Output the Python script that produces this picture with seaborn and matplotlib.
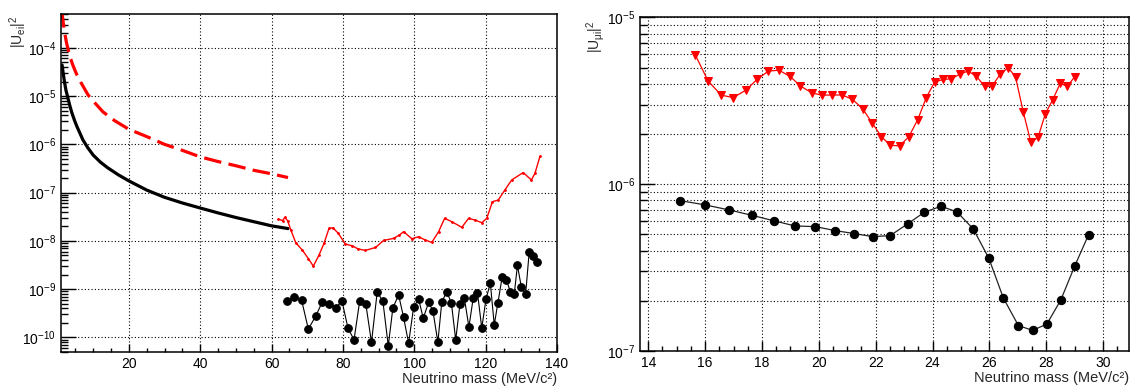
import matplotlib
matplotlib.use("Agg")
import matplotlib.pyplot as plt
import seaborn as sns
from matplotlib.ticker import FixedLocator, LogLocator, NullFormatter, LogFormatterSciNotation

#--------------------------------------- DATA ---------------------------------------#
# left panel : |U_ei|^2
e_curve_mass = [1.3, 1.6, 2.0, 2.4, 2.8, 3.4, 4.0, 4.8, 5.5, 6.3, 7.1, 8.5, 10, 12, 14, 17,
                20, 25, 30, 35, 40, 45, 50, 55, 60, 64.6]
e_curve_val = [4.4e-5, 3.0e-5, 1.9e-5, 1.3e-5, 1.0e-5, 6.6e-6, 4.6e-6, 3.1e-6, 2.3e-6, 1.7e-6,
               1.25e-6, 8.5e-7, 6.0e-7, 4.3e-7, 3.3e-7, 2.35e-7, 1.75e-7, 1.13e-7, 8.0e-8,
               6.1e-8, 4.8e-8, 3.8e-8, 3.05e-8, 2.5e-8, 2.05e-8, 1.8e-8]

e_dash_mass = [1.2, 1.6, 2.0, 2.55, 3.0, 3.5, 4.2, 5.3, 6.5, 8.6, 10.5, 12.75, 16, 20, 25, 30,
               35, 40, 45, 50, 55, 60, 64.6]
e_dash_val = [6.0e-4, 3.4e-4, 2.1e-4, 1.25e-4, 9.2e-5, 6.6e-5, 4.6e-5, 2.9e-5, 1.95e-5, 1.05e-5,
              7.2e-6, 4.7e-6, 3.1e-6, 2.05e-6, 1.45e-6, 1.0e-6, 7.5e-7, 5.5e-7, 4.4e-7, 3.6e-7,
              2.9e-7, 2.45e-7, 2.05e-7]

e_red_mass = [61.9, 63.1, 63.7, 64.5, 65.4, 66.8, 68.65, 70.3, 71.7, 73.3, 74.7, 76.1, 77.2,
              78.7, 80.7, 82.6, 84.3, 86.3, 89.1, 91.4, 94.2, 95.8, 97.0, 99.3, 101.2, 103.1,
              104.9, 106.8, 108.5, 110.5, 113.3, 115.2, 117.0, 118.9, 120.3, 121.9, 123.5,
              125.4, 127.3, 130.5, 132.8, 133.8, 135.2]
e_red_val = [2.84e-8, 2.62e-8, 3.08e-8, 2.62e-8, 1.68e-8, 9.1e-9, 6.4e-9, 4.3e-9, 3.0e-9,
             5.1e-9, 8.9e-9, 1.82e-8, 1.87e-8, 1.43e-8, 8.6e-9, 7.9e-9, 6.8e-9, 6.35e-9,
             7.3e-9, 1.02e-8, 1.13e-8, 1.32e-8, 1.55e-8, 1.11e-8, 1.22e-8, 1.04e-8, 9.3e-9,
             1.55e-8, 2.93e-8, 2.5e-8, 1.91e-8, 2.93e-8, 2.71e-8, 2.38e-8, 2.93e-8, 6.5e-8,
             7.0e-8, 1.14e-7, 1.83e-7, 2.6e-7, 1.83e-7, 2.5e-7, 5.6e-7]

e_dot_mass = [64.2, 66.3, 68.4, 70.3, 72.4, 74.2, 76.1, 78.0, 79.7, 81.4, 83.1, 84.7, 86.4,
              88.0, 89.6, 91.2, 92.7, 94.0, 95.6, 97.0, 98.4, 99.8, 101.2, 102.5, 104.0,
              105.2, 106.6, 107.7, 109.1, 110.4, 111.6, 112.8, 114.0, 115.3, 116.5, 117.7,
              118.9, 120.1, 121.3, 122.4, 123.4, 124.65, 125.8, 126.9, 128.0, 128.9, 130.0,
              131.2, 132.2, 133.3, 134.3]
e_dot_val = [5.6e-10, 6.8e-10, 6.0e-10, 1.49e-10, 2.8e-10, 5.4e-10, 5.0e-10, 4.05e-10,
             5.8e-10, 1.58e-10, 8.9e-11, 5.7e-10, 5.0e-10, 7.9e-11, 8.7e-10, 5.6e-10, 6.7e-11,
             4.1e-10, 7.6e-10, 2.6e-10, 7.6e-11, 4.2e-10, 6.3e-10, 2.5e-10, 5.3e-10, 3.6e-10,
             8.0e-11, 5.4e-10, 8.95e-10, 5.1e-10, 8.9e-11, 5.0e-10, 6.7e-10, 1.64e-10,
             6.5e-10, 8.5e-10, 1.56e-10, 6.3e-10, 1.33e-9, 1.83e-10, 5.1e-10, 1.83e-9,
             1.56e-9, 8.95e-10, 7.9e-10, 3.1e-9, 1.1e-9, 8.0e-10, 6.0e-9, 4.9e-9, 3.7e-9]

# right panel : |U_mui|^2
mu_tri_mass = [15.66, 16.11, 16.57, 16.99, 17.43, 17.84, 18.23, 18.60, 18.99, 19.35, 19.75,
               20.12, 20.47, 20.81, 21.17, 21.54, 21.87, 22.2, 22.52, 22.84, 23.16, 23.48,
               23.78, 24.08, 24.38, 24.66, 24.96, 25.24, 25.54, 25.83, 26.09, 26.38, 26.66,
               26.92, 27.19, 27.46, 27.71, 27.97, 28.23, 28.49, 28.74, 29.0]
mu_tri_val = [5.94e-6, 4.15e-6, 3.42e-6, 3.31e-6, 3.66e-6, 4.27e-6, 4.77e-6, 4.83e-6, 4.43e-6,
              3.89e-6, 3.53e-6, 3.42e-6, 3.43e-6, 3.43e-6, 3.24e-6, 2.84e-6, 2.34e-6, 1.93e-6,
              1.71e-6, 1.70e-6, 1.92e-6, 2.44e-6, 3.31e-6, 4.11e-6, 4.25e-6, 4.29e-6, 4.57e-6,
              4.77e-6, 4.45e-6, 3.87e-6, 3.87e-6, 4.57e-6, 5.01e-6, 4.39e-6, 2.72e-6, 1.78e-6,
              1.91e-6, 2.65e-6, 3.22e-6, 4.02e-6, 3.87e-6, 4.41e-6]

mu_dot_mass = [15.11, 16.0, 16.85, 17.65, 18.43, 19.17, 19.88, 20.58, 21.25, 21.9, 22.51,
               23.12, 23.71, 24.30, 24.86, 25.43, 25.98, 26.49, 27.02, 27.52, 28.02, 28.51,
               29.0, 29.49]
mu_dot_val = [7.98e-7, 7.52e-7, 7.01e-7, 6.51e-7, 6.03e-7, 5.62e-7, 5.57e-7, 5.27e-7, 5.06e-7,
              4.85e-7, 4.92e-7, 5.78e-7, 6.79e-7, 7.38e-7, 6.82e-7, 5.40e-7, 3.60e-7, 2.08e-7,
              1.42e-7, 1.33e-7, 1.45e-7, 2.02e-7, 3.23e-7, 4.99e-7]

# axis ticks
e_xticks = [20, 40, 60, 80, 100, 120, 140]
e_xminor = [5 * i for i in range(1, 28)]
mu_xticks = [14, 16, 18, 20, 22, 24, 26, 28, 30]
mu_xminor = [14 + 0.5 * i for i in range(0, 34)]

#--------------------------------------- STYLE ---------------------------------------#
sns.set_theme(style="ticks")
plt.rcParams['font.family'] = ['Liberation Sans', 'DejaVu Sans']
plt.rcParams['mathtext.fontset'] = 'custom'
plt.rcParams['mathtext.rm'] = 'Liberation Sans'
plt.rcParams['mathtext.it'] = 'Liberation Sans:italic'

RED = "#ff0000"
GRID = dict(color="black", linestyle=(0, (1, 2)), linewidth=0.8)
FS_TICK = 10
FS_LAB = 10.5
XLABEL = "Neutrino mass (MeV/c\u00b2)"

fig = plt.figure(figsize=(11.32, 3.86), dpi=100)
ax1 = fig.add_axes([0.0539, 0.0881, 0.4382, 0.8756])
ax2 = fig.add_axes([0.5651, 0.0907, 0.4325, 0.8640])

#--------------------------------------- LEFT ---------------------------------------#
sns.lineplot(x=e_curve_mass, y=e_curve_val, color="black", linewidth=2.3, estimator=None, sort=False, ax=ax1)
sns.lineplot(x=e_dash_mass, y=e_dash_val, color=RED, linewidth=2.3, linestyle=(0, (5.5, 2.3)),
             estimator=None, sort=False, ax=ax1)
sns.lineplot(x=e_red_mass, y=e_red_val, color=RED, linewidth=1.0, marker=".", markersize=2.5,
             markeredgecolor=RED, estimator=None, sort=False, ax=ax1)
sns.lineplot(x=e_dot_mass, y=e_dot_val, color="black", linewidth=0.8, marker="o", markersize=5.5,
             markeredgecolor="black", markerfacecolor="black", estimator=None, sort=False, ax=ax1)

ax1.set_yscale("log")
ax1.set_xlim(1, 140)
ax1.set_ylim(5e-11, 5e-4)
ax1.xaxis.set_major_locator(FixedLocator(e_xticks))
ax1.xaxis.set_minor_locator(FixedLocator(e_xminor))
ax1.yaxis.set_major_locator(LogLocator(base=10, numticks=20))
ax1.yaxis.set_minor_locator(LogLocator(base=10, subs=range(2, 10), numticks=20))
ax1.yaxis.set_major_formatter(LogFormatterSciNotation())
ax1.yaxis.set_minor_formatter(NullFormatter())
ax1.grid(True, which="major", **GRID)
ax1.tick_params(axis="x", which="major", direction="in", length=5.8, width=1, labelsize=FS_TICK)
ax1.tick_params(axis="x", which="minor", direction="in", length=2.9, width=1)
ax1.tick_params(axis="y", which="major", direction="in", length=10.8, width=1, labelsize=FS_TICK)
ax1.tick_params(axis="y", which="minor", direction="in", length=5, width=1)
ax1.set_xlabel(XLABEL, fontsize=FS_LAB, loc="right", labelpad=1)
ax1.set_ylabel("$\\mathregular{|U_{ei}|^2}$", fontsize=10, loc="top")
ax1.yaxis.set_label_coords(-0.064, 0.995)

#--------------------------------------- RIGHT ---------------------------------------#
sns.lineplot(x=mu_tri_mass, y=mu_tri_val, color=RED, linewidth=0.9, marker="v", markersize=5.5,
             markeredgecolor=RED, markerfacecolor=RED, estimator=None, sort=False, ax=ax2)
sns.lineplot(x=mu_dot_mass, y=mu_dot_val, color="#222222", linewidth=0.9, marker="o", markersize=6,
             markeredgecolor="black", markerfacecolor="black", estimator=None, sort=False, ax=ax2)

ax2.set_yscale("log")
ax2.set_xlim(13.7, 30.92)
ax2.set_ylim(1e-7, 1e-5)
ax2.xaxis.set_major_locator(FixedLocator(mu_xticks))
ax2.xaxis.set_minor_locator(FixedLocator(mu_xminor))
ax2.yaxis.set_major_locator(LogLocator(base=10, numticks=10))
ax2.yaxis.set_minor_locator(LogLocator(base=10, subs=range(2, 10), numticks=10))
ax2.yaxis.set_major_formatter(LogFormatterSciNotation())
ax2.yaxis.set_minor_formatter(NullFormatter())
ax2.xaxis.grid(True, which="major", **GRID)
ax2.yaxis.grid(True, which="both", **GRID)
ax2.tick_params(axis="x", which="major", direction="in", length=7.2, width=1, labelsize=FS_TICK)
ax2.tick_params(axis="x", which="minor", direction="in", length=3.6, width=1)
ax2.tick_params(axis="y", which="major", direction="in", length=10.8, width=1, labelsize=FS_TICK)
ax2.tick_params(axis="y", which="minor", direction="in", length=5, width=1)
ax2.set_xlabel(XLABEL, fontsize=FS_LAB, loc="right", labelpad=1)
ax2.set_ylabel("$\\mathregular{|U_{\u03bci}|^2}$", fontsize=10, loc="top")
ax2.yaxis.set_label_coords(-0.067, 0.99)

for ax in (ax1, ax2):
    for sp in ax.spines.values():
        sp.set_visible(True)
        sp.set_linewidth(1.1)
        sp.set_color("black")
    ax.tick_params(which="both", top=False, right=False, colors="black")

fig.savefig("out.png", dpi=100)
